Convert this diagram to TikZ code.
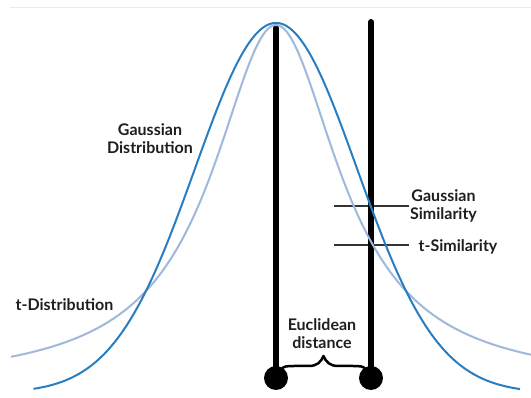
\documentclass[tikz,border=0pt]{standalone}
\usepackage{fontspec}
\setmainfont{Lato}
\definecolor{gblue}{RGB}{40,126,192}
\definecolor{tblue}{RGB}{160,184,220}
\definecolor{txt}{RGB}{30,30,30}
\begin{document}
\begin{tikzpicture}[x=1pt,y=-1pt,
  lbl/.style={font=\bfseries\fontsize{16}{18}\selectfont, text=txt, align=center, inner sep=1pt},
  gcurve/.style={gblue, line width=2pt},
  tcurve/.style={tblue, line width=2pt},
  stem/.style={line width=6.5pt, line cap=round},
  dot/.style={circle, fill=black, minimum size=24pt, inner sep=0pt},
  tickline/.style={line width=1.1pt, draw=black!80},
  bracepath/.style={line width=2.5pt, line join=round, line cap=round}]
\useasboundingbox (0,0) rectangle (531,398);
\fill[white] (0,0) rectangle (531,398);
\draw[black!8, line width=0.8pt] (10,7) -- (531,7);
% similarity ticks
\coordinate (g1) at (334,206); \coordinate (g2) at (409,206);
\coordinate (t1) at (334,245); \coordinate (t2) at (409,245);
\draw[tickline] (g1) -- (g2);
\draw[tickline] (t1) -- (t2);
% points and stems
\node[dot] (p1) at (276,378) {};
\node[dot] (p2) at (371,378) {};
\coordinate (top1) at (276,28);
\coordinate (top2) at (371,22);
\draw[stem] (top1) -- (p1.center);
\draw[stem, line width=6pt] (top2) -- (p2.center);
% brace
\coordinate (b1) at (281,370);
\coordinate (b2) at (366,370);
\draw[bracepath] (b1) .. controls (283,366) and (287,366) .. (294,366) -- (309,366) .. controls (317,366) and (321,362) .. (323.5,356) .. controls (326,362) and (330,366) .. (338,366) -- (353,366) .. controls (360,366) and (364,366) .. (b2);
% curves
\draw[tcurve] plot[domain=11:531, samples=240, smooth] (\x, {385-360/(1+((\x-276)/77.3)*((\x-276)/77.3))});
\draw[gcurve] plot[domain=33.5:520, samples=240, smooth] (\x, {393-370*exp(-0.5*((\x-276)/81)*((\x-276)/81))});
% labels
\node[lbl] (gd) at (150,139) {Gaussian\\Distribution};
\node[lbl] (td) at (64.5,305) {t-Distribution};
\node[lbl] (gs) at (443.5,205.5) {Gaussian\\Similarity};
\node[lbl] (ts) at (458,247) {t-Similarity};
\node[lbl] (ed) at (322,334) {Euclidean\\distance};
\end{tikzpicture}
\end{document}
